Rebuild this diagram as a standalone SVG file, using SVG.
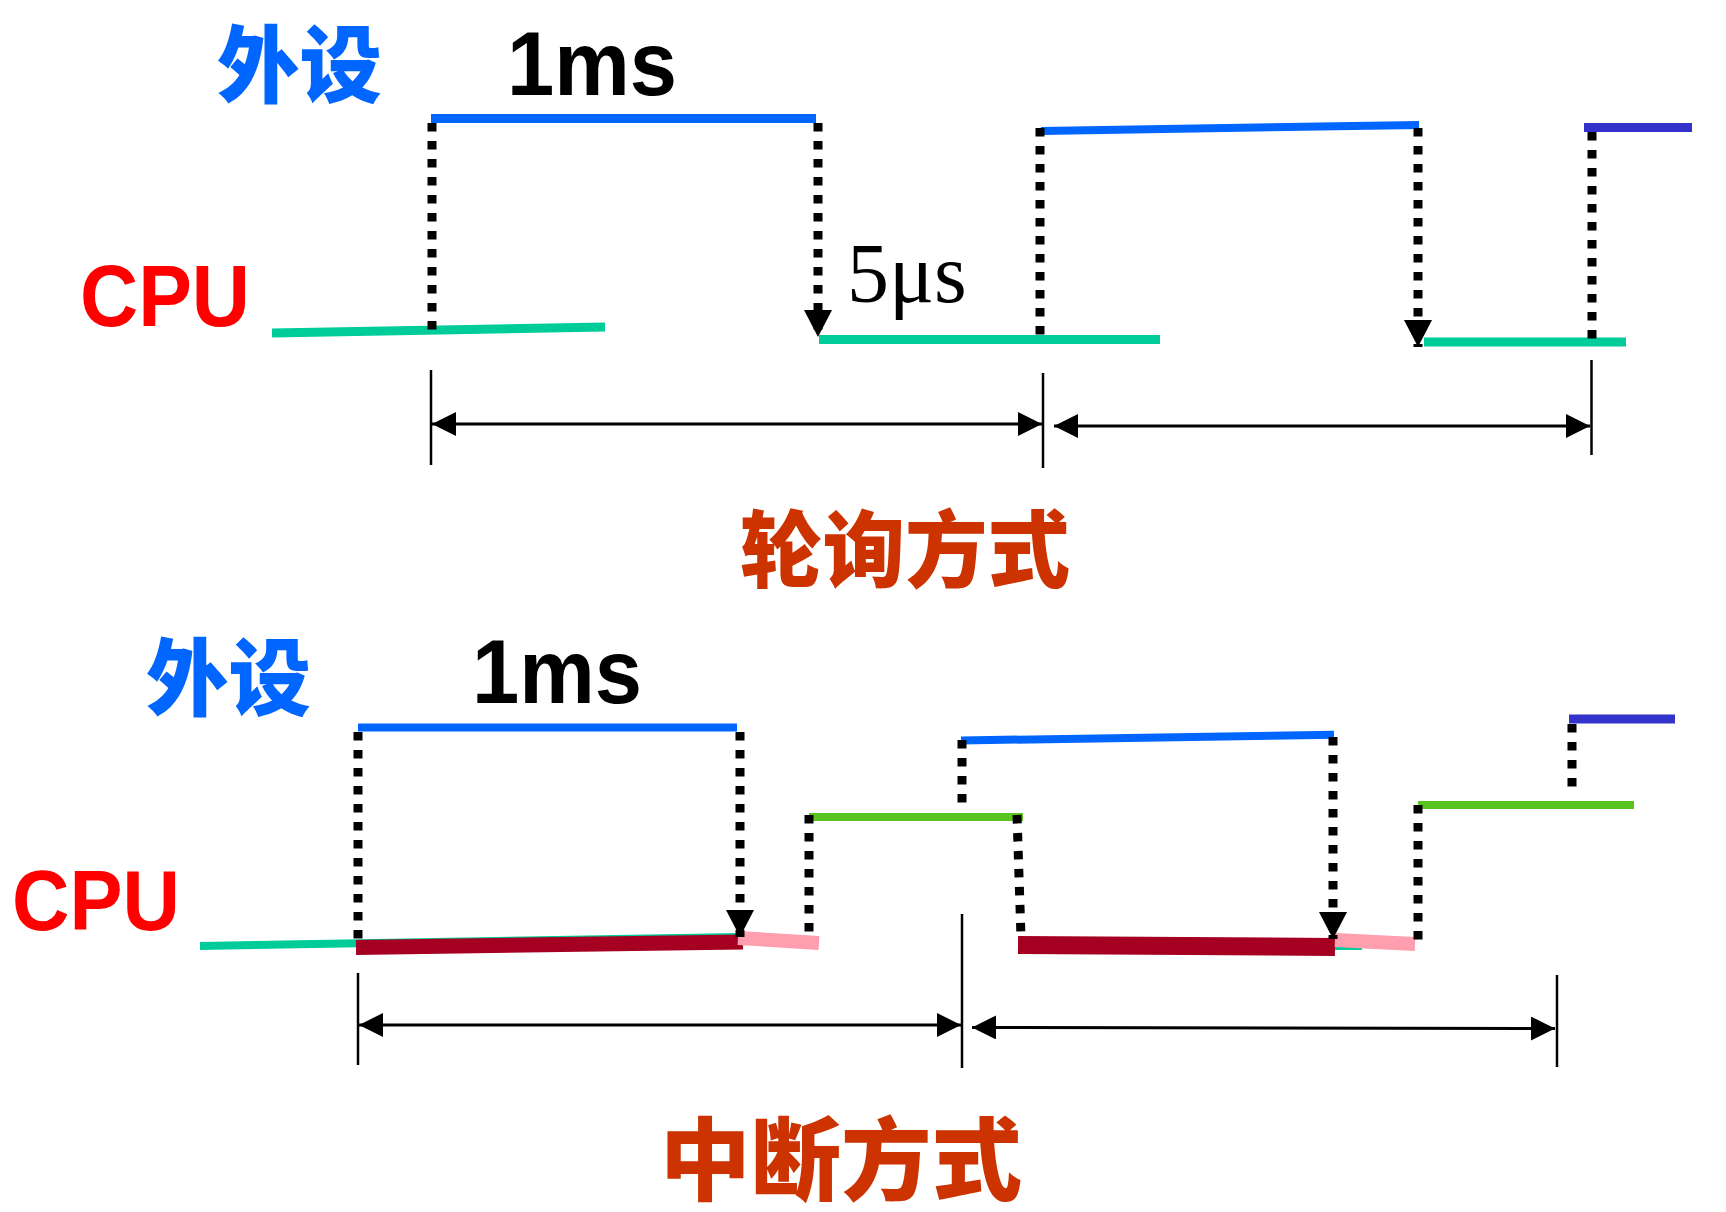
<svg xmlns="http://www.w3.org/2000/svg" width="1726" height="1212" viewBox="0 0 1726 1212">
<style>
.cjk{font-family:"Noto Sans CJK SC","Noto Sans",sans-serif;font-weight:900}
.lat{font-family:"Liberation Sans",Arial,sans-serif;font-weight:bold}
.ser{font-family:"Liberation Serif","Times New Roman",serif}
.dot{stroke:#000;stroke-width:9;stroke-dasharray:8.5 9.5;fill:none}
.dim{stroke:#000;stroke-width:3;fill:none}
.tick{stroke:#000;stroke-width:2.5;fill:none}
.sig{fill:none;stroke-linecap:butt}
</style>
<defs>
<marker id="ah" markerUnits="userSpaceOnUse" markerWidth="24" markerHeight="24" refX="24" refY="12" orient="auto-start-reverse">
<path d="M0,0 L24,12 L0,24 z" fill="#000"/>
</marker>
<marker id="dh" markerUnits="userSpaceOnUse" markerWidth="27" markerHeight="28" refX="27" refY="14" orient="auto">
<path d="M0,0 L27,14 L0,28 z" fill="#000"/>
</marker>
</defs>
<rect width="1726" height="1212" fill="#fff"/>

<g id="labels">
<text class="cjk" x="217" y="96" font-size="84" fill="#0066FF" textLength="165" lengthAdjust="spacingAndGlyphs">外设</text>
<text class="lat" x="507" y="95" font-size="91" fill="#000" textLength="170" lengthAdjust="spacingAndGlyphs">1ms</text>
<text class="lat" x="80" y="326" font-size="88" fill="#FF0000" textLength="170" lengthAdjust="spacingAndGlyphs">CPU</text>
<text class="ser" x="847" y="302" font-size="84" fill="#000">5μs</text>
<text class="cjk" x="740" y="581" font-size="84" fill="#CC3300" textLength="330" lengthAdjust="spacingAndGlyphs">轮询方式</text>
<text class="cjk" x="146" y="709" font-size="84" fill="#0066FF" textLength="165" lengthAdjust="spacingAndGlyphs">外设</text>
<text class="lat" x="472" y="703" font-size="91" fill="#000" textLength="170" lengthAdjust="spacingAndGlyphs">1ms</text>
<text class="lat" x="12" y="930" font-size="86" fill="#FF0000" textLength="168" lengthAdjust="spacingAndGlyphs">CPU</text>
<text class="cjk" x="660" y="1193" font-size="90" fill="#CC3300" textLength="362" lengthAdjust="spacingAndGlyphs">中断方式</text>
</g>

<g id="signals">
<!-- polling -->
<line class="sig" x1="431" y1="118.5" x2="816" y2="118.5" stroke="#0066FF" stroke-width="9"/>
<line class="sig" x1="272" y1="333" x2="605" y2="327" stroke="#00CC99" stroke-width="9"/>
<line class="sig" x1="819" y1="339.5" x2="1160" y2="339.5" stroke="#00CC99" stroke-width="9"/>
<line class="sig" x1="1041" y1="131" x2="1419" y2="125" stroke="#0066FF" stroke-width="8"/>
<line class="sig" x1="1424" y1="342" x2="1626" y2="342" stroke="#00CC99" stroke-width="9"/>
<line class="sig" x1="1584" y1="127.5" x2="1692" y2="127.5" stroke="#3333CC" stroke-width="9"/>
<!-- interrupt -->
<line class="sig" x1="358" y1="727.5" x2="737" y2="727.5" stroke="#0066FF" stroke-width="8"/>
<line class="sig" x1="200" y1="946" x2="740" y2="937" stroke="#00CC99" stroke-width="8"/>
<line class="sig" x1="356" y1="947.5" x2="743" y2="942" stroke="#A50021" stroke-width="15"/>
<line class="sig" x1="738" y1="938" x2="819" y2="943" stroke="#FF9EAE" stroke-width="14"/>
<line class="sig" x1="809" y1="817" x2="1023" y2="817" stroke="#5AC520" stroke-width="8"/>
<line class="sig" x1="961" y1="740.5" x2="1334" y2="734.7" stroke="#0066FF" stroke-width="8"/>
<line class="sig" x1="1335" y1="948" x2="1362" y2="948" stroke="#00CC99" stroke-width="4"/>
<line class="sig" x1="1018" y1="945" x2="1335" y2="947" stroke="#A50021" stroke-width="18"/>
<line class="sig" x1="1335" y1="940" x2="1415" y2="944" stroke="#FF9EAE" stroke-width="14"/>
<line class="sig" x1="1418" y1="805" x2="1634" y2="805" stroke="#5AC520" stroke-width="8"/>
<line class="sig" x1="1569" y1="719" x2="1675" y2="719" stroke="#3333CC" stroke-width="9"/>
</g>

<g id="connectors">
<!-- polling dotted -->
<line class="dot" x1="432" y1="123" x2="432" y2="337"/>
<line class="dot" x1="818" y1="123" x2="818" y2="337" marker-end="url(#dh)"/>
<line class="dot" x1="1040" y1="128" x2="1040" y2="343"/>
<line class="dot" x1="1418" y1="128" x2="1418" y2="347" marker-end="url(#dh)"/>
<line class="dot" x1="1592" y1="132" x2="1592" y2="339"/>
<!-- interrupt dotted -->
<line class="dot" x1="358" y1="732" x2="358" y2="940"/>
<line class="dot" x1="740" y1="732" x2="740" y2="937" marker-end="url(#dh)"/>
<line class="dot" x1="809" y1="815" x2="809" y2="934"/>
<line class="dot" x1="962" y1="740" x2="962" y2="804"/>
<line class="dot" x1="1017" y1="815" x2="1021" y2="937"/>
<line class="dot" x1="1333" y1="737" x2="1333" y2="939" marker-end="url(#dh)"/>
<line class="dot" x1="1418" y1="805" x2="1418" y2="942"/>
<line class="dot" x1="1572" y1="724" x2="1572" y2="788"/>
<!-- ticks -->
<line class="tick" x1="431" y1="370" x2="431" y2="465"/>
<line class="tick" x1="1043" y1="373" x2="1043" y2="468"/>
<line class="tick" x1="1591.5" y1="360" x2="1591.5" y2="455"/>
<line class="tick" x1="358" y1="973" x2="358" y2="1065"/>
<line class="tick" x1="962" y1="914" x2="962" y2="1068"/>
<line class="tick" x1="1557" y1="975" x2="1557" y2="1067"/>
<!-- dimension arrows -->
<line class="dim" x1="432" y1="424" x2="1042" y2="424" marker-start="url(#ah)" marker-end="url(#ah)"/>
<line class="dim" x1="1054" y1="426" x2="1590" y2="426" marker-start="url(#ah)" marker-end="url(#ah)"/>
<line class="dim" x1="359" y1="1025" x2="961" y2="1025" marker-start="url(#ah)" marker-end="url(#ah)"/>
<line class="dim" x1="972" y1="1027.4" x2="1555" y2="1028.6" marker-start="url(#ah)" marker-end="url(#ah)"/>
</g>
</svg>
